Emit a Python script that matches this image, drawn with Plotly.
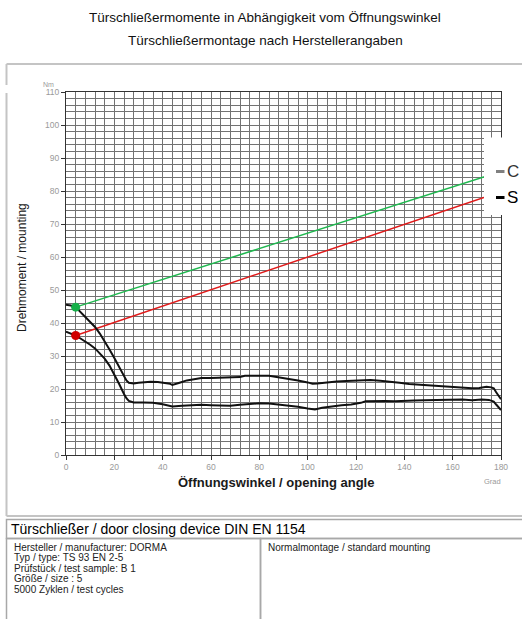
import plotly.graph_objects as go

# ---------------- data ----------------
angle_open = [0, 2, 4, 6, 8, 10, 12, 14, 16, 18, 20, 22, 24, 25, 26, 28, 30, 32, 35, 38, 41, 43, 44, 45, 47,
              50, 53, 56, 60, 63, 66, 70, 72, 74, 77, 80, 84, 88, 92, 96, 100, 102, 104, 108, 112, 116,
              120, 124, 126, 130, 134, 138, 142, 146, 150, 155, 160, 164, 168, 171, 174, 176, 177, 178, 179, 180]
moment_open = [45.5, 45.3, 44.8, 43.3, 41.8, 40.3, 38.8, 36.8, 34.6, 32.0, 29.4, 26.6, 23.8, 22.6, 21.9, 21.7,
               21.9, 22.0, 22.2, 22.1, 21.9, 21.6, 21.2, 21.5, 21.9, 22.6, 23.0, 23.3, 23.3, 23.4, 23.3, 23.5,
               23.6, 24.0, 23.9, 24.0, 24.0, 23.6, 23.1, 22.6, 22.0, 21.6, 21.7, 22.1, 22.3, 22.4, 22.5, 22.8,
               22.7, 22.5, 22.3, 21.9, 21.5, 21.3, 21.1, 20.9, 20.5, 20.3, 20.2, 20.3, 20.7, 20.5, 20.2, 19.0,
               18.0, 16.9]

angle_close = [0, 2, 4, 6, 8, 10, 12, 14, 16, 18, 20, 22, 24, 25, 26, 28, 32, 36, 40, 44, 48, 52, 56, 60,
               64, 68, 72, 76, 80, 84, 88, 92, 96, 100, 103, 106, 110, 114, 118, 122, 124, 128, 132, 136,
               140, 144, 148, 152, 156, 160, 164, 168, 172, 175, 177, 178, 180]
moment_close = [37.4, 36.8, 36.2, 35.3, 34.4, 33.4, 32.3, 30.9, 29.2, 27.1, 24.5, 21.5, 18.5, 17.2, 16.4, 15.9,
                15.9, 15.8, 15.4, 14.7, 14.9, 15.1, 15.2, 15.1, 14.9, 14.9, 15.2, 15.5, 15.7, 15.6, 15.3,
                15.0, 14.6, 14.1, 13.8, 14.3, 14.8, 15.1, 15.3, 15.8, 16.3, 16.4, 16.4, 16.3, 16.5, 16.5,
                16.6, 16.7, 16.6, 16.7, 16.8, 16.6, 16.8, 16.7, 16.2, 15.3, 13.6]

limit_angle = [4, 180]
limit_upper = [44.8, 85.9]
limit_lower = [36.2, 79.8]

legend_labels = ["C", "S"]

title_1 = "Türschließermomente in Abhängigkeit vom Öffnungswinkel"
title_2 = "Türschließermontage nach Herstellerangaben"
x_title = "Öffnungswinkel / opening angle"
y_title = "Drehmoment / mounting"
device_title = "Türschließer / door closing device DIN EN 1154"
info_lines = ["Hersteller / manufacturer: DORMA", "Typ / type: TS 93 EN 2-5",
              "Prüfstück / test sample: B 1", "Größe / size : 5", "5000 Zyklen / test cycles"]
mounting_text = "Normalmontage / standard mounting"

# ---------------- layout geometry (pixels) ----------------
W, H = 522, 619
L, R, T, B = 66, 501, 92, 455
FONT = "Liberation Sans, Arial, sans-serif"


def px(x):
    return (x - L) / (R - L)


def py(y):
    return (B - y) / (B - T)


fig = go.Figure()

fig.add_trace(go.Scatter(x=limit_angle, y=limit_upper, mode="lines",
                         line=dict(color="#1fb84f", width=1.5), showlegend=False, hoverinfo="skip"))
fig.add_trace(go.Scatter(x=limit_angle, y=limit_lower, mode="lines",
                         line=dict(color="#e01b1b", width=1.5), showlegend=False, hoverinfo="skip"))
fig.add_trace(go.Scatter(x=angle_open, y=moment_open, mode="lines",
                         line=dict(color="#111111", width=2), showlegend=False))
fig.add_trace(go.Scatter(x=angle_close, y=moment_close, mode="lines",
                         line=dict(color="#111111", width=2), showlegend=False))
fig.add_trace(go.Scatter(x=limit_angle[:1], y=limit_upper[:1], mode="markers",
                         marker=dict(color="#16b04a", size=9), showlegend=False))
fig.add_trace(go.Scatter(x=limit_angle[:1], y=limit_lower[:1], mode="markers",
                         marker=dict(color="#d00000", size=9), showlegend=False))

grid_col = "#727272"
fig.update_xaxes(range=[0, 180], dtick=20, tick0=0, showgrid=True, gridcolor=grid_col, gridwidth=1,
                 minor=dict(dtick=4, tick0=0, showgrid=True, gridcolor=grid_col, gridwidth=1),
                 ticks="outside", ticklen=4, tickcolor="#333", showline=True, linecolor="#333",
                 linewidth=1, mirror=True, zeroline=False,
                 tickfont=dict(family=FONT, size=8.5, color="#9a9a9a"))
fig.update_yaxes(range=[0, 110], dtick=10, tick0=0, showgrid=True, gridcolor=grid_col, gridwidth=1,
                 minor=dict(dtick=2, tick0=0, showgrid=True, gridcolor=grid_col, gridwidth=1),
                 ticks="outside", ticklen=4, tickcolor="#333", showline=True, linecolor="#333",
                 linewidth=1, mirror=True, zeroline=False,
                 tickfont=dict(family=FONT, size=8.5, color="#9a9a9a"))

shapes = []
frame_col = "#c4c4c4"
# outer frame
shapes.append(dict(type="line", xref="paper", yref="paper", x0=px(6.5), x1=px(530), y0=py(64), y1=py(64),
                   line=dict(color=frame_col, width=2)))
shapes.append(dict(type="line", xref="paper", yref="paper", x0=px(6.5), x1=px(6.5), y0=py(64), y1=py(85),
                   line=dict(color=frame_col, width=2)))
shapes.append(dict(type="line", xref="paper", yref="paper", x0=px(6.5), x1=px(6.5), y0=py(93), y1=py(516),
                   line=dict(color=frame_col, width=2)))
shapes.append(dict(type="line", xref="paper", yref="paper", x0=px(6.5), x1=px(530), y0=py(516), y1=py(516),
                   line=dict(color=frame_col, width=2)))
# device title box
shapes.append(dict(type="rect", xref="paper", yref="paper", x0=px(6.5), x1=px(530), y0=py(538.5), y1=py(519.5),
                   line=dict(color="#a8a8a8", width=1.5), fillcolor="white"))
# info table
shapes.append(dict(type="rect", xref="paper", yref="paper", x0=px(6.5), x1=px(260.5), y0=py(630), y1=py(538.5),
                   line=dict(color="#a8a8a8", width=1.5)))
shapes.append(dict(type="rect", xref="paper", yref="paper", x0=px(260.5), x1=px(530), y0=py(630), y1=py(538.5),
                   line=dict(color="#a8a8a8", width=1.5)))
# legend box
shapes.append(dict(type="rect", xref="paper", yref="paper", x0=px(484), x1=px(540), y0=py(215), y1=py(137.5),
                   line=dict(width=0), fillcolor="white", layer="above"))
shapes.append(dict(type="line", xref="paper", yref="paper", x0=px(496), x1=px(504.5), y0=py(171.5), y1=py(171.5),
                   line=dict(color="#808080", width=3), layer="above"))
shapes.append(dict(type="line", xref="paper", yref="paper", x0=px(496), x1=px(504.5), y0=py(197.5), y1=py(197.5),
                   line=dict(color="#000000", width=3), layer="above"))

ann = []
ann.append(dict(text=title_1, x=px(265), y=py(17), xref="paper", yref="paper", showarrow=False,
                font=dict(family=FONT, size=13.5, color="#111"), xanchor="center", yanchor="middle"))
ann.append(dict(text=title_2, x=px(265), y=py(40), xref="paper", yref="paper", showarrow=False,
                font=dict(family=FONT, size=13.5, color="#111"), xanchor="center", yanchor="middle"))
ann.append(dict(text=x_title, x=px(276), y=py(483), xref="paper", yref="paper", showarrow=False,
                font=dict(family=FONT, size=13, color="#1a1a1a", weight="bold"),
                xanchor="center", yanchor="middle"))
ann.append(dict(text=y_title, x=px(22), y=py(268), xref="paper", yref="paper", showarrow=False,
                textangle=-90, font=dict(family=FONT, size=12, color="#1a1a1a"),
                xanchor="center", yanchor="middle"))
ann.append(dict(text="Nm", x=px(48), y=py(84), xref="paper", yref="paper", showarrow=False,
                font=dict(family=FONT, size=7, color="#9a9a9a"), xanchor="center", yanchor="middle"))
ann.append(dict(text="Grad", x=px(492), y=py(481), xref="paper", yref="paper", showarrow=False,
                font=dict(family=FONT, size=7.5, color="#9a9a9a"), xanchor="center", yanchor="middle"))
ann.append(dict(text=legend_labels[0], x=px(505), y=py(171.5), xref="paper", yref="paper", showarrow=False,
                font=dict(family=FONT, size=17, color="#333"), xanchor="left", yanchor="middle"))
ann.append(dict(text=legend_labels[1], x=px(505), y=py(197.5), xref="paper", yref="paper", showarrow=False,
                font=dict(family=FONT, size=17, color="#000"), xanchor="left", yanchor="middle"))
ann.append(dict(text=device_title, x=px(9), y=py(529), xref="paper", yref="paper", showarrow=False,
                font=dict(family=FONT, size=14, color="#000"), xanchor="left", yanchor="middle"))
for i, line in enumerate(info_lines):
    ann.append(dict(text=line, x=px(12), y=py(547 + i * 10.6), xref="paper", yref="paper", showarrow=False,
                    font=dict(family=FONT, size=10, color="#222"), xanchor="left", yanchor="middle"))
ann.append(dict(text=mounting_text, x=px(266), y=py(547), xref="paper", yref="paper", showarrow=False,
                font=dict(family=FONT, size=10, color="#222"), xanchor="left", yanchor="middle"))

fig.update_layout(width=W, height=H, margin=dict(l=L, r=W - R, t=T, b=H - B),
                  paper_bgcolor="white", plot_bgcolor="white", showlegend=False,
                  shapes=shapes, annotations=ann, font=dict(family=FONT))

fig.write_html("out.html", config={"displayModeBar": False, "staticPlot": True},
               post_script="document.body.style.margin='0px';document.body.style.overflow='hidden';")
